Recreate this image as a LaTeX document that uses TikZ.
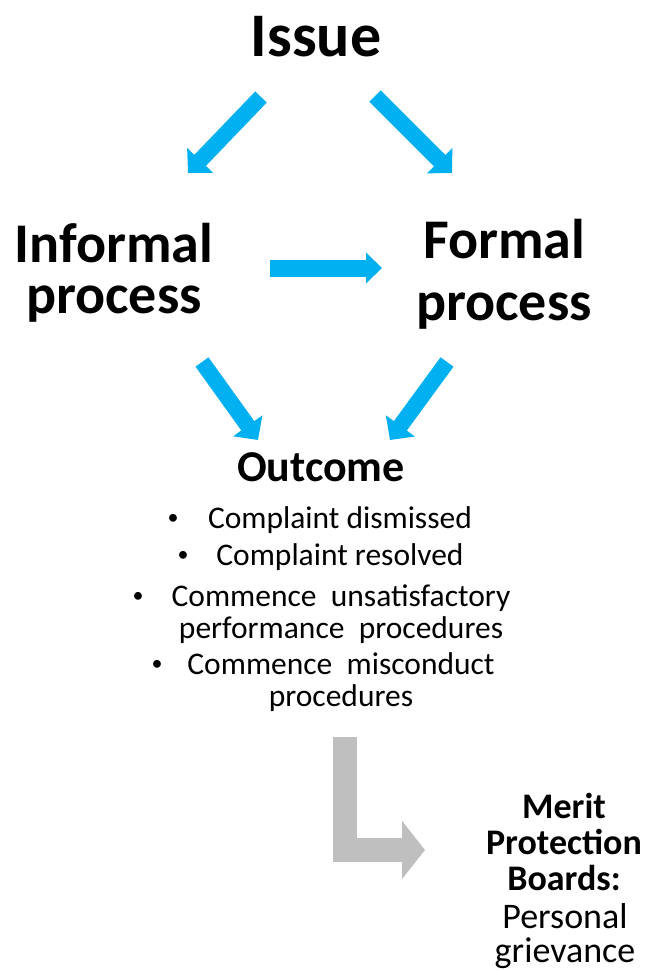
\documentclass[tikz,border=0pt]{standalone}
\usepackage{fontspec}
\setmainfont{Carlito}
\usetikzlibrary{
  arrows.meta,
  positioning
}
\definecolor{arrowblue}{HTML}{00B0F0}
\definecolor{arrowgray}{HTML}{BFBFBF}
\tikzset{
  heading/.style={
    font=\bfseries\fontsize{56}{51}\selectfont,
    align=center,
    inner sep=0pt,
    anchor=base
  },
  itemtext/.style={
    font=\fontsize{31.5}{32}\selectfont,
    align=center,
    inner sep=0pt,
    anchor=base
  },
  dot/.style={
    font=\fontsize{22}{22}\selectfont,
    inner sep=0pt,
    anchor=base
  },
  flow/.style={
    draw=arrowblue,
    line width=16pt,
    -{Triangle[width=35pt,length=17.5pt,fill=arrowblue]}
  },
  bigflow/.style={
    draw=arrowgray,
    line width=24pt,
    line join=miter,
    -{Triangle[width=57pt,length=23pt,fill=arrowgray]}
  }
}
\begin{document}
\begin{tikzpicture}[x=1pt,y=-1pt]
  \useasboundingbox (0,0) rectangle (646,971);
  % headings (base = last line)
  \node[heading,font=\bfseries\fontsize{62}{62}\selectfont] (issue) at (316,57) {Issue};
  \node[heading] (informal) at (114,313) {Informal\\process};
  \node[heading,font=\bfseries\fontsize{56}{62}\selectfont] (formal) at (504,320) {Formal\\process};
  \node[heading,font=\bfseries\fontsize{44}{44}\selectfont] (outcome) at (321,481) {Outcome};
  % outcome list
  \node[itemtext] (dismissed) at (340,528) {Complaint dismissed};
  \node[itemtext] (resolved) at (340,565) {Complaint resolved};
  \node[itemtext] (unsat) at (341,638) {Commence\ \ unsatisfactory\\performance\ \ procedures};
  \node[itemtext] (misconduct) at (341,706) {Commence\ \ misconduct\\procedures};
  \node[dot] (b1) at (173,524) {\textbullet};
  \node[dot] (b2) at (183,561) {\textbullet};
  \node[dot] (b3) at (138,602) {\textbullet};
  \node[dot] (b4) at (157,670) {\textbullet};
  % merit protection
  \node[heading,font=\bfseries\fontsize{36}{36}\selectfont] (merit) at (564,890) {Merit\\Protection\\Boards:};
  \node[heading,font=\fontsize{36}{34}\selectfont] (grievance) at (565,962) {Personal\\grievance};
  % arrow ends
  \coordinate (a1s) at (261,97);
  \coordinate (a1e) at (188,173);
  \coordinate (a2s) at (375,96);
  \coordinate (a2e) at (452,173);
  \coordinate (a3s) at (270,268);
  \coordinate (a3e) at (382,268);
  \coordinate (a4s) at (202,362);
  \coordinate (a4e) at (258,440);
  \coordinate (a5s) at (447,362);
  \coordinate (a5e) at (390,440);
  \coordinate (a6s) at (345,737);
  \coordinate (a6e) at (425,850);
  \draw[flow] (a1s) -- (a1e);
  \draw[flow] (a2s) -- (a2e);
  \draw[flow,line width=17pt,-{Triangle[width=30pt,length=16pt,fill=arrowblue]}] (a3s) -- (a3e);
  \draw[flow] (a4s) -- (a4e);
  \draw[flow] (a5s) -- (a5e);
  \draw[bigflow] (a6s) |- (a6e);
\end{tikzpicture}
\end{document}
